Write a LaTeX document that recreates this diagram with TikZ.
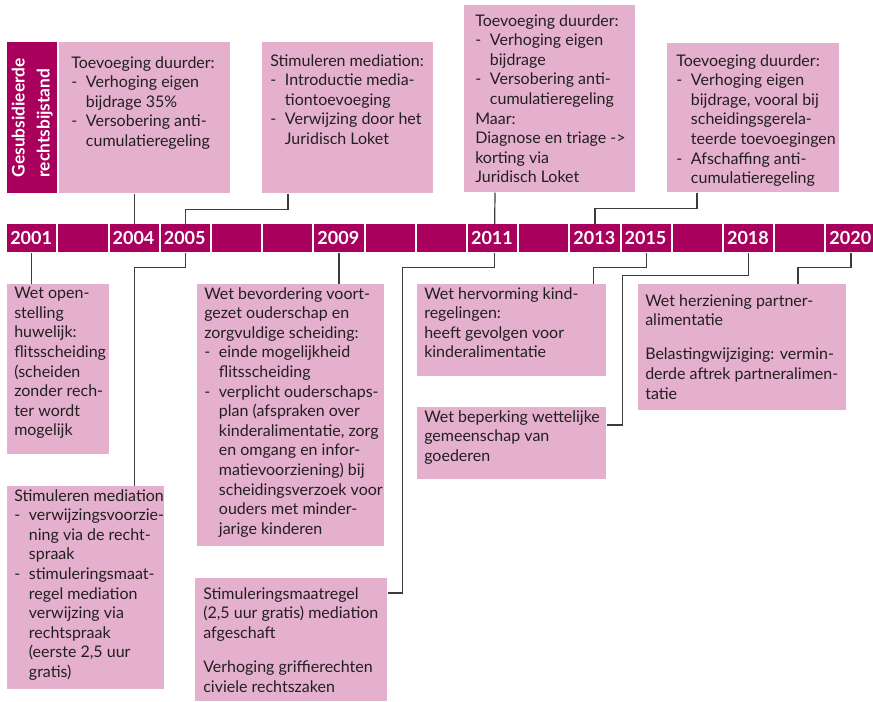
\documentclass[tikz,border=0pt]{standalone}
\usepackage{fontspec}
\setmainfont{Lato}
\usetikzlibrary{positioning}

\definecolor{barmag}{RGB}{168,0,92}
\definecolor{boxpink}{RGB}{228,176,206}
\definecolor{txtgray}{RGB}{35,31,32}
\definecolor{linegray}{RGB}{60,60,60}

\newcommand{\itemdash}{\makebox[11pt][l]{-}}
\newcommand{\itemind}{\hspace*{11pt}}

\begin{document}
\begin{tikzpicture}[x=0.75pt,y=0.75pt,yscale=-1,
  pbox/.style 2 args={fill=boxpink, anchor=north west, inner sep=0pt,
    minimum width=#1*0.75pt, minimum height=#2*0.75pt},
  ptext/.style={anchor=north west, inner sep=0pt, align=left, text=txtgray,
    font=\fontsize{12}{14.7}\selectfont},
  yearcell/.style={fill=barmag, anchor=north west, inner xsep=2.25pt, inner ysep=0pt,
    text width=32.4pt, minimum height=21pt, align=left, text=white,
    font=\fontsize{13.5}{14}\selectfont\bfseries},
  conn/.style={draw=linegray, line width=0.9pt}]
\useasboundingbox (0,0) rectangle (873,701);

% timeline bar
\foreach \i/\yr in {0/2001,1/{},2/2004,3/2005,4/{},5/{},6/2009,7/{},8/{},9/2011,10/{},11/2013,12/2015,13/{},14/2018,15/{},16/2020}
  \node[yearcell] (c\i) at (7+\i*51.2,224) {\yr};

% side title
\node[pbox={50}{151}, fill=barmag] (gr) at (7,42) {};
\node[rotate=90, align=left, text=white, font=\fontsize{13}{18.75}\selectfont\bfseries] (grt) at (gr.center) {Gesubsidieerde\\rechtsbijstand};

% boxes above the bar
\node[pbox={171}{151}] (b1) at (59,42) {};
\node[ptext] (b1t) at (71,56) {Toevoeging duurder:\\
  \itemdash Verhoging eigen\\ \itemind bijdrage 35\%\\
  \itemdash Versobering anti-\\ \itemind cumulatieregeling};

\node[pbox={171}{151}] (b2) at (262,42) {};
\node[ptext] (b2t) at (270,54) {Stimuleren mediation:\\
  \itemdash Introductie media-\\ \itemind tiontoevoeging\\
  \itemdash Verwijzing door het\\ \itemind Juridisch Loket};

\node[pbox={171}{187}] (b3) at (464,5) {};
\node[ptext] (b3t) at (475,14) {Toevoeging duurder:\\
  \itemdash Verhoging eigen\\ \itemind bijdrage\\
  \itemdash Versobering anti-\\ \itemind cumulatieregeling\\
  Maar:\\ Diagnose en triage ->\\ korting via\\ Juridisch Loket};

\node[pbox={172}{149}] (b4) at (667,43) {};
\node[ptext] (b4t) at (676,54) {Toevoeging duurder:\\
  \itemdash Verhoging eigen\\ \itemind bijdrage, vooral bij\\
  \itemind scheidingsgerela-\\ \itemind teerde toevoegingen\\
  \itemdash Afschaffing anti-\\ \itemind cumulatieregeling};

% boxes below the bar
\node[pbox={102}{170}] (d1) at (7,284) {};
\node[ptext] (d1t) at (14,287) {Wet open-\\ stelling\\ huwelijk:\\ flitsscheiding\\
  (scheiden\\ zonder rech-\\ ter wordt\\ mogelijk};

\node[pbox={157}{203}] (d2) at (7,486) {};
\node[ptext] (d2t) at (14,489) {Stimuleren mediation\\
  \itemdash verwijzingsvoorzie-\\ \itemind ning via de recht-\\ \itemind spraak\\
  \itemdash stimuleringsmaat-\\ \itemind regel mediation\\ \itemind verwijzing via\\
  \itemind rechtspraak\\ \itemind (eerste 2,5 uur\\ \itemind gratis)};

\node[pbox={187}{262}] (d3) at (197,284) {};
\node[ptext] (d3t) at (204,287) {Wet bevordering voort-\\ gezet ouderschap en\\
  zorgvuldige scheiding:\\
  \itemdash einde mogelijkheid\\ \itemind flitsscheiding\\
  \itemdash verplicht ouderschaps-\\ \itemind plan (afspraken over\\
  \itemind kinderalimentatie, zorg\\ \itemind en omgang en infor-\\
  \itemind matievoorziening) bij\\ \itemind scheidingsverzoek voor\\
  \itemind ouders met minder-\\ \itemind jarige kinderen};

\node[pbox={192}{123}] (d4) at (195,578) {};
\node[ptext] (d4t) at (203,587) {Stimuleringsmaatregel\\ (2,5 uur gratis) mediation\\
  afgeschaft\\[11pt] Verhoging griffierechten\\ civiele rechtszaken};

\node[pbox={189}{92}] (d5) at (417,284) {};
\node[ptext] (d5t) at (424,287) {Wet hervorming kind-\\ regelingen:\\
  heeft gevolgen voor\\ kinderalimentatie};

\node[pbox={189}{72}] (d6) at (417,407) {};
\node[ptext] (d6t) at (424,410) {Wet beperking wettelijke\\ gemeenschap van\\ goederen};

\node[pbox={208}{126}] (d7) at (638,284) {};
\node[ptext] (d7t) at (645,294) {Wet herziening partner-\\ alimentatie\\[11pt]
  Belastingwijziging: vermin-\\ derde aftrek partneralimen-\\ tatie};

% connectors to the bar
\draw[conn] (b1.south -| c2.north) -- (c2.north);
\draw[conn] ([shift={(26,0)}]b2.south west) -- ++(0,16) -| (c3.north);
\draw[conn] ([shift={(31,0)}]b3.south west) -- ([shift={(2,0)}]c9.north);
\draw[conn] ([shift={(30,0)}]b4.south west) -- ++(0,16) -| (c11.north);

\draw[conn] (c0.south) -- (c0.south |- d1.north);
\draw[conn] (c3.south) -- ++(0,15) -| (d2.north -| c2.south);
\draw[conn] (c6.south) -- (c6.south |- d3.north);
\coordinate (k4) at ([shift={(0,15)}]d4.north east);
\draw[conn] ([shift={(2,0)}]c9.south) -- ++(0,15) -| ([shift={(15,0)}]k4) -- (k4);
\draw[conn] (c12.south) -- ++(0,15) -| ([shift={(-13,0)}]d5.north east);
\coordinate (k6) at ([shift={(0,18)}]d6.north east);
\draw[conn] (c14.south) -- ++(0,23) -| ([shift={(16,0)}]k6) -- (k6);
\draw[conn] (c16.south) -- ++(0,15) -| ([shift={(160,0)}]d7.north west);

\end{tikzpicture}
\end{document}
